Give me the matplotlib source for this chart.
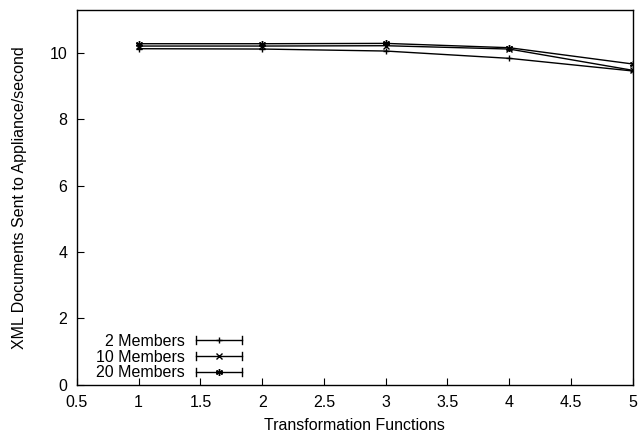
import matplotlib
matplotlib.use("Agg")
import matplotlib.pyplot as plt
from matplotlib.lines import Line2D
from matplotlib.legend_handler import HandlerBase

plt.rcParams['font.family'] = ['Liberation Sans', 'DejaVu Sans']

functions = [1, 2, 3, 4, 5]
members_2 = [10.12, 10.11, 10.05, 9.83, 9.45]
members_10 = [10.2, 10.2, 10.21, 10.11, 9.47]
members_20 = [10.27, 10.27, 10.28, 10.15, 9.66]
labels = ["2 Members", "10 Members", "20 Members"]
markers = ['+', 'x', (6, 2, 0)]


class ErrKeyHandler(HandlerBase):
	# gnuplot style key: line with end caps and a marker in the middle
	def create_artists(self, legend, orig, xdescent, ydescent, width, height, fontsize, trans):
		y = height / 2.0 - ydescent
		x0 = -xdescent
		x1 = -xdescent + width
		cap = 3.0
		ln = Line2D([x0, x1], [y, y], color="black", lw=1.0, transform=trans)
		c1 = Line2D([x0, x0], [y - cap, y + cap], color="black", lw=1.0, transform=trans)
		c2 = Line2D([x1, x1], [y - cap, y + cap], color="black", lw=1.0, transform=trans)
		mk = Line2D([(x0 + x1) / 2.0], [y], marker=orig.get_marker(), markersize=orig.get_markersize(),
			markeredgewidth=orig.get_markeredgewidth(), color="black", linestyle="none", transform=trans)
		return [ln, c1, c2, mk]


def main():
	fig = plt.figure(figsize=(6.41, 4.32), dpi=100)
	ax = fig.add_axes([0.12, 0.109, 0.867, 0.869])
	handles = []
	for ys, lab, m in zip([members_2, members_10, members_20], labels, markers):
		h, = ax.plot(functions, ys, color="black", lw=1.0, marker=m, markersize=5, markeredgewidth=1.0, label=lab)
		handles.append(h)
	ax.set_xlim(0.5, 5)
	ax.set_ylim(0, 11.3)
	ax.set_xticks([0.5, 1, 1.5, 2, 2.5, 3, 3.5, 4, 4.5, 5])
	ax.set_xticklabels(["0.5", "1", "1.5", "2", "2.5", "3", "3.5", "4", "4.5", "5"])
	ax.set_yticks([0, 2, 4, 6, 8, 10])
	ax.tick_params(direction="in", length=5, width=0.8, labelsize=11.5, top=False, right=False)
	ax.tick_params(axis="x", pad=7)
	ax.tick_params(axis="y", pad=7)
	for s in ax.spines.values():
		s.set_linewidth(1.0)
	ax.set_xlabel("Transformation Functions", fontsize=11.5, labelpad=6)
	ax.set_ylabel("XML Documents Sent to Appliance/second", fontsize=11.5, labelpad=16)
	ax.legend(handles, labels, handler_map={Line2D: ErrKeyHandler()}, loc="lower left",
		bbox_to_anchor=(0.035, 0.012), frameon=False, markerfirst=False, fontsize=11.5,
		handlelength=2.85, handletextpad=0.7, labelspacing=0.05, borderpad=0, borderaxespad=0)
	fig.savefig("out.png", dpi=100)


if __name__ == "__main__":
	main()
